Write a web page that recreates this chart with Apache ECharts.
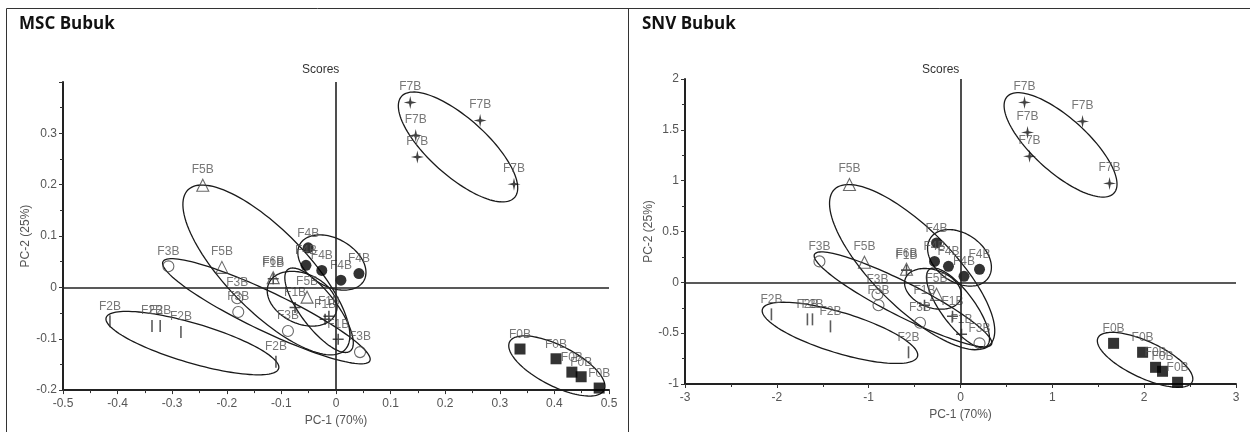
<!DOCTYPE html>
<html>
<head>
<meta charset="utf-8">
<script src="https://cdn.jsdelivr.net/npm/echarts@6/dist/echarts.min.js"></script>
<style>
html,body{margin:0;padding:0;background:#fff;}
#chart{width:1250px;height:432px;}
</style>
</head>
<body>
<div id="chart"></div>
<script>
// ---------------- DATA ----------------
const panelTitles = ['MSC Bubuk', 'SNV Bubuk'];
const xAxisName = 'PC-1 (70%)';
const yAxisName = 'PC-2 (25%)';
const plotCaption = 'Scores';
const groups = ['F0B', 'F1B', 'F2B', 'F3B', 'F4B', 'F5B', 'F6B', 'F7B'];

// axis ranges [min, max, interval]
const mscXRange = [-0.5, 0.5, 0.1];
const mscYRange = [-0.2, 0.4, 0.1];
const snvXRange = [-3, 3, 1];
const snvYRange = [-1, 2, 0.5];

// MSC scores [PC-1, PC-2]
const mscF0B = [[0.337, -0.120], [0.403, -0.139], [0.432, -0.165], [0.449, -0.174], [0.482, -0.196]];
const mscF1B = [[-0.115, 0.017], [-0.075, -0.039], [-0.020, -0.062], [-0.013, -0.056], [0.004, -0.101]];
const mscF2B = [[-0.414, -0.066], [-0.337, -0.075], [-0.322, -0.075], [-0.284, -0.087], [-0.110, -0.145]];
const mscF3B = [[-0.307, 0.041], [-0.181, -0.021], [-0.179, -0.048], [-0.088, -0.085], [0.044, -0.126]];
const mscF4B = [[-0.051, 0.077], [-0.055, 0.043], [-0.026, 0.033], [0.009, 0.014], [0.042, 0.027]];
const mscF5B = [[-0.244, 0.199], [-0.209, 0.039], [-0.053, -0.019]];
const mscF6B = [[-0.115, 0.019]];
const mscF7B = [[0.136, 0.360], [0.264, 0.325], [0.146, 0.296], [0.149, 0.254], [0.326, 0.201]];

// SNV scores [PC-1, PC-2]
const snvF0B = [[1.667, -0.600], [1.983, -0.688], [2.124, -0.836], [2.200, -0.875], [2.364, -0.983]];
const snvF1B = [[-0.588, 0.120], [-0.392, -0.226], [-0.087, -0.334], [0.011, -0.511]];
const snvF2B = [[-2.059, -0.315], [-1.667, -0.364], [-1.612, -0.364], [-1.416, -0.433], [-0.566, -0.688]];
const snvF3B = [[-1.536, 0.206], [-0.904, -0.118], [-0.893, -0.226], [-0.441, -0.398], [0.207, -0.600]];
const snvF4B = [[-0.261, 0.388], [-0.283, 0.206], [-0.131, 0.157], [0.038, 0.059], [0.207, 0.128]];
const snvF5B = [[-1.209, 0.963], [-1.046, 0.197], [-0.261, -0.118]];
const snvF6B = [[-0.588, 0.128]];
const snvF7B = [[0.697, 1.770], [1.329, 1.583], [0.730, 1.475], [0.752, 1.239], [1.623, 0.973]];

// group ellipses: major-axis end points [x1, y1, x2, y2] and minor/major ratio
const mscEllipses = [
  [0.318, -0.106, 0.491, -0.200, 0.38],   // F0B
  [-0.088, 0.035, 0.026, -0.124, 0.35],   // F1B
  [-0.421, -0.059, -0.105, -0.158, 0.22], // F2B
  [-0.317, 0.050, 0.062, -0.143, 0.17],   // F3B
  [-0.066, 0.084, 0.051, 0.013, 0.65],    // F4B
  [-0.271, 0.190, 0.016, -0.122, 0.36],   // F5B
  [-0.123, 0.008, -0.001, -0.052, 0.68],  // F6B
  [0.120, 0.372, 0.327, 0.175, 0.38]      // F7B
];
const snvEllipses = [
  [1.497, -0.546, 2.523, -0.978, 0.35],   // F0B
  [-0.338, 0.128, 0.283, -0.629, 0.35],   // F1B
  [-2.157, -0.264, -0.468, -0.730, 0.25], // F2B
  [-1.590, 0.275, 0.338, -0.610, 0.17],   // F3B
  [-0.324, 0.439, 0.302, 0.043, 0.69],    // F4B
  [-1.373, 0.914, 0.320, -0.615, 0.36],   // F5B
  [-0.601, 0.035, 0.002, -0.163, 0.64],   // F6B
  [0.507, 1.826, 1.672, 0.878, 0.375]     // F7B
];

// ---------------- CHART ----------------
const mscData = {F0B: mscF0B, F1B: mscF1B, F2B: mscF2B, F3B: mscF3B, F4B: mscF4B, F5B: mscF5B, F6B: mscF6B, F7B: mscF7B};
const snvData = {F0B: snvF0B, F1B: snvF1B, F2B: snvF2B, F3B: snvF3B, F4B: snvF4B, F5B: snvF5B, F6B: snvF6B, F7B: snvF7B};

const FONT = '"Liberation Sans", Arial, sans-serif';
const INK = '#111';
const TXT = '#555';

const symbolStyles = {
  F0B: {symbol: 'rect', symbolSize: 11, itemStyle: {color: '#000'}},
  F1B: {symbol: 'path://M4.3,0H5.7V4.3H10V5.7H5.7V10H4.3V5.7H0V4.3H4.3Z', symbolSize: 11, itemStyle: {color: '#222'}},
  F2B: {symbol: 'path://M0,0H1V10H0Z', symbolSize: [1.6, 12], itemStyle: {color: '#333'}},
  F3B: {symbol: 'circle', symbolSize: 11, itemStyle: {color: 'rgba(255,255,255,0)', borderColor: '#444', borderWidth: 1.1}},
  F4B: {symbol: 'circle', symbolSize: 11, itemStyle: {color: '#000'}},
  F5B: {symbol: 'triangle', symbolSize: 12, itemStyle: {color: 'rgba(255,255,255,0)', borderColor: '#444', borderWidth: 1.1}},
  F6B: {symbol: 'triangle', symbolSize: 12, itemStyle: {color: 'rgba(255,255,255,0)', borderColor: '#444', borderWidth: 1.1}},
  F7B: {symbol: 'path://M5,0L5.9,4.1L10,5L5.9,5.9L5,10L4.1,5.9L0,5L4.1,4.1Z', symbolSize: 13, itemStyle: {color: '#111'}}
};

function ellipseRender(params, api) {
  const p1 = api.coord([api.value(0), api.value(1)]);
  const p2 = api.coord([api.value(2), api.value(3)]);
  const ratio = api.value(4);
  const cx = (p1[0] + p2[0]) / 2, cy = (p1[1] + p2[1]) / 2;
  const dx = (p2[0] - p1[0]) / 2, dy = (p2[1] - p1[1]) / 2;
  const a = Math.hypot(dx, dy);
  const ux = dx / a, uy = dy / a;
  const b = a * ratio;
  const pts = [];
  const n = 120;
  for (let i = 0; i < n; i++) {
    const t = i / n * Math.PI * 2;
    const c = Math.cos(t), s = Math.sin(t);
    pts.push([cx + a * c * ux - b * s * uy, cy + a * c * uy + b * s * ux]);
  }
  return {type: 'polygon', shape: {points: pts}, style: {fill: 'none', stroke: '#1a1a1a', lineWidth: 1.3}};
}

function axisPair(idx, xr, yr, hideTop) {
  const common = {
    axisLine: {show: true, onZero: false, lineStyle: {color: '#222', width: 2}},
    axisTick: {show: true, inside: false, length: 4, lineStyle: {color: '#333', width: 1}},
    minorTick: {show: true, splitNumber: 2, length: 3, lineStyle: {color: '#333', width: 1}},
    splitLine: {show: false},
    nameTextStyle: {fontFamily: FONT, fontSize: 12, color: TXT}
  };
  const x = Object.assign({}, common, {
    type: 'value', gridIndex: idx, min: xr[0], max: xr[1], interval: xr[2],
    name: xAxisName, nameLocation: 'middle', nameGap: 21,
    axisLabel: {fontFamily: FONT, fontSize: 12, color: TXT, margin: 8,
      formatter: v => String(+v.toFixed(2))}
  });
  const y = Object.assign({}, common, {
    type: 'value', gridIndex: idx, min: yr[0], max: yr[1], interval: yr[2],
    name: yAxisName, nameLocation: 'middle', nameGap: hideTop ? 31 : 27,
    axisLabel: {fontFamily: FONT, fontSize: 12, color: TXT, margin: 6,
      formatter: v => (hideTop && Math.abs(v - yr[1]) < 1e-9) ? '' : String(+v.toFixed(2))}
  });
  return [x, y];
}

const [x0, y0] = axisPair(0, mscXRange, mscYRange, true);
const [x1, y1] = axisPair(1, snvXRange, snvYRange, false);

const series = [];
function addPanel(idx, dataMap, ellipses) {
  series.push({
    type: 'custom', xAxisIndex: idx, yAxisIndex: idx, renderItem: ellipseRender,
    data: ellipses, silent: true, animation: false, z: 2,
    encode: {x: [0, 2], y: [1, 3]},
    markLine: {
      silent: true, symbol: ['none', 'none'], animation: false,
      label: {show: false},
      lineStyle: {color: '#222', width: 1.6, type: 'solid'},
      data: [{xAxis: 0}, {yAxis: 0}]
    }
  });
  groups.forEach(g => {
    const st = symbolStyles[g];
    series.push({
      type: 'scatter', name: g, xAxisIndex: idx, yAxisIndex: idx,
      data: dataMap[g], symbol: st.symbol, symbolSize: st.symbolSize,
      itemStyle: st.itemStyle, z: 3, animation: false,
      label: {show: true, position: 'top', distance: 3, formatter: g,
        fontFamily: FONT, fontSize: 12, color: '#555'}
    });
  });
}
addPanel(0, mscData, mscEllipses);
addPanel(1, snvData, snvEllipses);

const chart = echarts.init(document.getElementById('chart'), null, {renderer: 'canvas'});
chart.setOption({
  backgroundColor: '#fff',
  animation: false,
  title: [
    {text: panelTitles[0], left: 14, top: 11, textStyle: {fontFamily: '"Open Sans", sans-serif', fontWeight: 700, fontSize: 17, color: INK}},
    {text: panelTitles[1], left: 637, top: 11, textStyle: {fontFamily: '"Open Sans", sans-serif', fontWeight: 700, fontSize: 17, color: INK}}
  ],
  grid: [
    {left: 63, top: 82, width: 546, height: 310},
    {left: 685, top: 79, width: 551, height: 305}
  ],
  xAxis: [x0, x1],
  yAxis: [y0, y1],
  graphic: [
    {type: 'rect', shape: {x: 6.5, y: 8.5, width: 1260, height: 440}, style: {fill: 'none', stroke: '#333', lineWidth: 1}, silent: true},
    {type: 'line', shape: {x1: 628.5, y1: 8, x2: 628.5, y2: 432}, style: {stroke: '#333', lineWidth: 1}, silent: true},
    {type: 'text', left: 302, top: 64, style: {text: plotCaption, font: '12px "Liberation Sans", Arial, sans-serif', fill: '#333'}, silent: true},
    {type: 'text', left: 922, top: 64, style: {text: plotCaption, font: '12px "Liberation Sans", Arial, sans-serif', fill: '#333'}, silent: true}
  ],
  series: series
});
</script>
</body>
</html>
